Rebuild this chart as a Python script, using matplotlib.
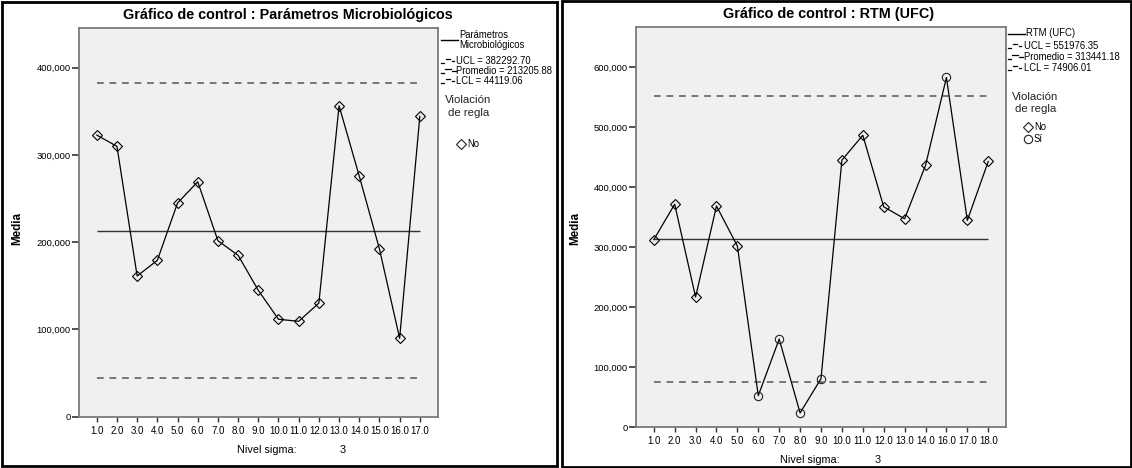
import matplotlib
matplotlib.use("Agg")
import matplotlib.pyplot as plt
from matplotlib.lines import Line2D
from matplotlib.patches import Rectangle

plt.rcParams['font.family'] = ['Liberation Sans', 'DejaVu Sans']

# ---------------- data ----------------
left_labels = ["1.0", "2.0", "3.0", "4.0", "5.0", "6.0", "7.0", "8.0", "9.0", "10.0",
               "11.0", "12.0", "13.0", "14.0", "15.0", "16.0", "17.0"]
left_values = [322700, 309700, 161200, 179200, 244800, 269200, 201600, 184900, 144800,
               111600, 109300, 130200, 356200, 275700, 192100, 89800, 344100]
left_violation = [False] * 17
left_ucl = 382292.70
left_mean = 213205.88
left_lcl = 44119.06
left_yticks = [0, 100000, 200000, 300000, 400000]

right_labels = ["1.0", "2.0", "3.0", "4.0", "5.0", "6.0", "7.0", "8.0", "9.0", "10.0",
                "11.0", "12.0", "13.0", "14.0", "16.0", "17.0", "18.0"]
right_values = [312800, 372000, 217200, 369000, 302200, 52800, 147200, 23900, 81100,
                445500, 487000, 367700, 347700, 436700, 583300, 345000, 443300]
right_violation = [False, False, False, False, False, True, True, True, True,
                   False, False, False, False, False, True, False, False]
right_ucl = 551976.35
right_mean = 313441.18
right_lcl = 74906.01
right_yticks = [0, 100000, 200000, 300000, 400000, 500000, 600000]

W, H = 1132, 468
fig = plt.figure(figsize=(W / 100, H / 100), dpi=100)


def fx(x):
    return x / W


def fy(y):
    return 1 - y / H


def box(x0, y0, x1, y1):
    return [fx(x0), fy(y1), fx(x1) - fx(x0), fy(y0) - fy(y1)]


def draw_chart(rect, labels, values, violation, ucl, mean, lcl, yticks, ylim, xlim):
    ax = fig.add_axes(rect)
    ax.set_facecolor('#F0F0F0')
    pos = list(range(1, len(values) + 1))
    ax.plot(pos, values, color='black', lw=0.9, zorder=3)
    n = len(values)
    ax.hlines(mean, 1, n, color='#333333', lw=1.0, zorder=2)
    for v in (ucl, lcl):
        ax.hlines(v, 1, n, color='#555555', lw=1.1, linestyles=[(0, (4.4, 3.8))], zorder=2)
    dx = [p for p, f in zip(pos, violation) if not f]
    dy = [v for v, f in zip(values, violation) if not f]
    cx = [p for p, f in zip(pos, violation) if f]
    cy = [v for v, f in zip(values, violation) if f]
    ax.plot(dx, dy, ls='none', marker='D', ms=5.0, mfc='none', mec='black', mew=0.8, zorder=4)
    if cx:
        ax.plot(cx, cy, ls='none', marker='o', ms=6.0, mfc='none', mec='#222222', mew=0.8, zorder=4)
    ax.set_xlim(*xlim)
    ax.set_ylim(*ylim)
    ax.set_xticks(pos)
    ax.set_xticklabels(labels, fontsize=7.0)
    ax.set_yticks(yticks)
    ax.set_yticklabels([f"{t:,}" for t in yticks], fontsize=6.8)
    ax.tick_params(axis='y', length=5, width=1.2, color='#333333', pad=1)
    ax.tick_params(axis='x', length=3.5, width=1.0, color='#333333', pad=3)
    for s in ax.spines.values():
        s.set_color('#7A7A7A')
        s.set_linewidth(1.3)
    return ax


# left chart
draw_chart(box(79, 28.3, 438, 416.7), left_labels, left_values, left_violation,
           left_ucl, left_mean, left_lcl, left_yticks, (0, 445000), (0.12, 17.9))
# right chart
draw_chart(box(636, 26.7, 1006, 427.3), right_labels, right_values, right_violation,
           right_ucl, right_mean, right_lcl, right_yticks, (0, 668000), (0.15, 17.85))

# panel frames
for (x0, y0, x1, y1) in [(2, 2, 557, 466), (562, 1, 1131, 467)]:
    fig.patches.append(Rectangle((fx(x0), fy(y1)), fx(x1) - fx(x0), fy(y0) - fy(y1),
                                 transform=fig.transFigure, fill=False,
                                 edgecolor='black', lw=2.0))

# titles
fig.text(fx(288), fy(15), "Gráfico de control : Parámetros Microbiológicos",
         ha='center', va='center', fontsize=10.4, fontweight='bold')
fig.text(fx(829), fy(14), "Gráfico de control : RTM (UFC)",
         ha='center', va='center', fontsize=10.4, fontweight='bold')

# y-axis labels
fig.text(fx(17), fy(228), "Media", rotation=90, ha='center', va='center',
         fontsize=8.4, fontweight='bold')
fig.text(fx(575), fy(228), "Media", rotation=90, ha='center', va='center',
         fontsize=8.4, fontweight='bold')

# sigma labels
fig.text(fx(237), fy(450), "Nivel sigma:", ha='left', va='center', fontsize=7.8)
fig.text(fx(343), fy(450), "3", ha='center', va='center', fontsize=7.8)
fig.text(fx(780), fy(460), "Nivel sigma:", ha='left', va='center', fontsize=7.8)
fig.text(fx(878), fy(460), "3", ha='center', va='center', fontsize=7.8)


def seg(x0, x1, y, lw=1.0, color='black'):
    fig.lines.append(Line2D([fx(x0), fx(x1)], [fy(y), fy(y)], transform=fig.transFigure,
                            color=color, lw=lw))


def limit_symbol(x, y, kind):
    # SPSS-style broken legend symbol
    if kind == 'mean':
        seg(x, x + 3, y + 1.5, lw=0.9)
        seg(x + 4, x + 10, y - 2.5, lw=0.9)
        seg(x + 11, x + 15, y, lw=0.9)
    else:
        seg(x, x + 2.5, y + 1.5, lw=0.9)
        seg(x + 5, x + 9, y - 2.5, lw=0.9)
        seg(x + 11, x + 13, y, lw=0.9)


def legend(x, y_series, series_lines, limits_y, limit_texts, viol_y, markers):
    seg(x, x + 17, y_series, lw=1.0)
    lines = series_lines
    fs = 6.85
    if len(lines) == 1:
        fig.text(fx(x + 18), fy(y_series), lines[0], ha='left', va='center', fontsize=fs)
    else:
        fig.text(fx(x + 18), fy(y_series - 5), lines[0], ha='left', va='center', fontsize=fs)
        fig.text(fx(x + 18), fy(y_series + 4.5), lines[1], ha='left', va='center', fontsize=fs)
    kinds = ['limit', 'mean', 'limit']
    for yy, t, k in zip(limits_y, limit_texts, kinds):
        limit_symbol(x, yy, k)
        fig.text(fx(x + 15.5), fy(yy), t, ha='left', va='center', fontsize=fs)
    fig.text(fx(x + 4), fy(viol_y), "Violación", ha='left', va='center', fontsize=8.2,
             color='#222222')
    fig.text(fx(x + 7), fy(viol_y + 12.5), "de regla", ha='left', va='center', fontsize=8.2,
             color='#222222')
    for (mk, yy, t) in markers:
        fig.lines.append(Line2D([fx(x + 20)], [fy(yy)], transform=fig.transFigure,
                                marker=mk, ms=5.5 if mk == 'D' else 6.0, mfc='none',
                                mec='#222222', mew=0.8, ls='none'))
        fig.text(fx(x + 26), fy(yy), t, ha='left', va='center', fontsize=fs)


legend(441, 40, ["Parámetros", "Microbiológicos"], [61, 71, 81],
       [f"UCL = {left_ucl:.2f}", f"Promedio = {left_mean:.2f}", f"LCL = {left_lcl:.2f}"],
       100, [('D', 144, "No")])
legend(1008, 33.5, ["RTM (UFC)"], [46, 57, 68],
       [f"UCL = {right_ucl:.2f}", f"Promedio = {right_mean:.2f}", f"LCL = {right_lcl:.2f}"],
       97, [('D', 127, "No"), ('o', 139, "Sí")])

fig.savefig("out.png", dpi=100)
